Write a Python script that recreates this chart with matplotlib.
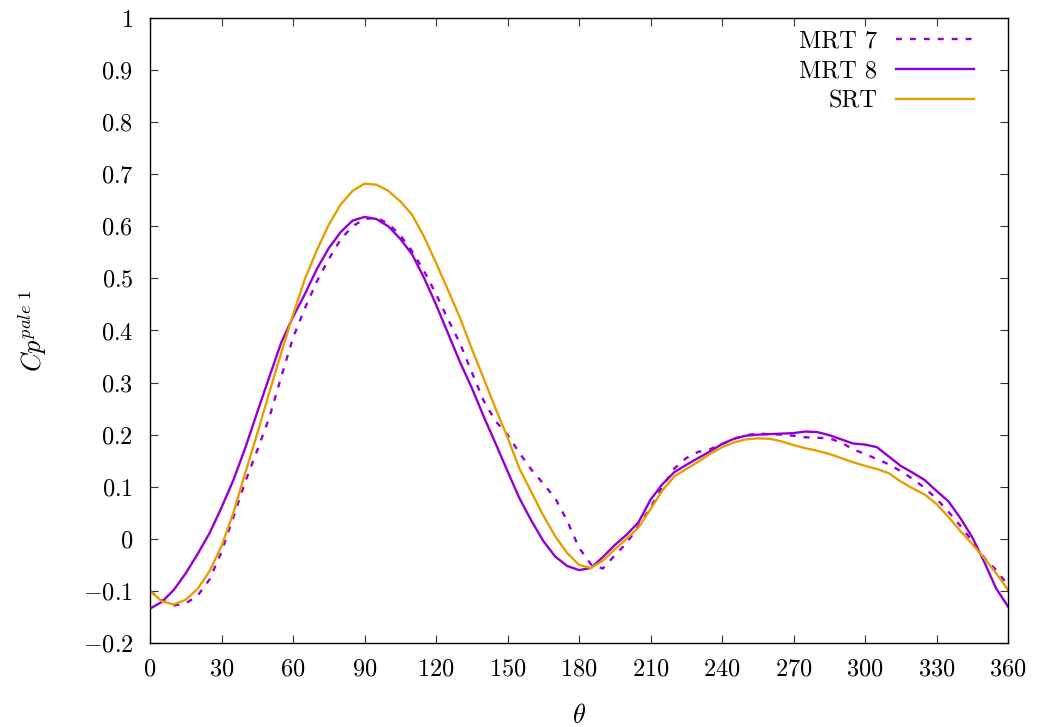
import matplotlib
matplotlib.use("Agg")
import matplotlib.pyplot as plt

theta = list(range(0, 361, 5))

mrt8 = [-0.134, -0.121, -0.098, -0.066, -0.029, 0.011, 0.060, 0.113, 0.175, 0.243,
        0.310, 0.376, 0.426, 0.470, 0.518, 0.558, 0.589, 0.611, 0.618, 0.614,
        0.600, 0.576, 0.546, 0.501, 0.450, 0.395, 0.340, 0.290, 0.235, 0.183,
        0.130, 0.078, 0.035, -0.004, -0.034, -0.052, -0.060, -0.056, -0.035, -0.012,
        0.008, 0.032, 0.075, 0.105, 0.128, 0.142, 0.155, 0.168, 0.182, 0.192,
        0.198, 0.200, 0.201, 0.202, 0.203, 0.206, 0.205, 0.199, 0.191, 0.183,
        0.181, 0.176, 0.158, 0.140, 0.127, 0.113, 0.092, 0.072, 0.040, 0.003,
        -0.044, -0.095, -0.130]

srt = [-0.100, -0.120, -0.126, -0.117, -0.096, -0.062, -0.014, 0.050, 0.127, 0.202,
       0.280, 0.356, 0.430, 0.499, 0.554, 0.603, 0.642, 0.668, 0.682, 0.680,
       0.668, 0.648, 0.622, 0.580, 0.530, 0.478, 0.425, 0.365, 0.308, 0.250,
       0.195, 0.135, 0.090, 0.045, 0.005, -0.027, -0.050, -0.056, -0.042, -0.020,
       0.000, 0.022, 0.057, 0.093, 0.120, 0.134, 0.148, 0.163, 0.176, 0.185,
       0.191, 0.193, 0.192, 0.187, 0.180, 0.174, 0.169, 0.163, 0.155, 0.147,
       0.140, 0.134, 0.126, 0.110, 0.097, 0.085, 0.067, 0.042, 0.015, -0.010,
       -0.037, -0.066, -0.098]

mrt7 = [-0.100, -0.118, -0.128, -0.124, -0.109, -0.078, -0.025, 0.042, 0.110, 0.170,
        0.232, 0.310, 0.386, 0.443, 0.494, 0.537, 0.575, 0.600, 0.614, 0.617,
        0.605, 0.583, 0.552, 0.514, 0.470, 0.422, 0.376, 0.320, 0.265, 0.226,
        0.200, 0.165, 0.133, 0.106, 0.078, 0.035, -0.017, -0.049, -0.057, -0.032,
        -0.008, 0.025, 0.060, 0.100, 0.135, 0.155, 0.167, 0.172, 0.182, 0.192,
        0.199, 0.202, 0.201, 0.200, 0.198, 0.195, 0.194, 0.193, 0.185, 0.172,
        0.163, 0.153, 0.143, 0.130, 0.115, 0.098, 0.077, 0.052, 0.025, -0.004,
        -0.036, -0.060, -0.089]

xticks = list(range(0, 361, 30))
yticks = [-0.2, -0.1, 0, 0.1, 0.2, 0.3, 0.4, 0.5, 0.6, 0.7, 0.8, 0.9, 1]
ytick_labels = [r'$-0.2$', r'$-0.1$', r'$0$', r'$0.1$', r'$0.2$', r'$0.3$', r'$0.4$',
                r'$0.5$', r'$0.6$', r'$0.7$', r'$0.8$', r'$0.9$', r'$1$']
xtick_labels = [r'$%d$' % v for v in xticks]

plt.rcParams['font.family'] = 'cmr10'
plt.rcParams['mathtext.fontset'] = 'cm'
plt.rcParams['axes.unicode_minus'] = False

purple = '#9400D3'
orange = '#E69F00'

fig = plt.figure(figsize=(10.37, 7.27), dpi=100)
ax = fig.add_axes([150/1037, 84/727, 858/1037, 625/727])

ax.plot(theta, mrt7, color=purple, lw=1.7, linestyle=(0, (2.5, 3.4)), label=r'MRT 7')
ax.plot(theta, mrt8, color=purple, lw=1.7, label=r'MRT 8')
ax.plot(theta, srt, color=orange, lw=1.7, label=r'SRT')

ax.set_xlim(0, 360)
ax.set_ylim(-0.2, 1.0)
ax.set_xticks(xticks)
ax.set_xticklabels(xtick_labels)
ax.set_yticks(yticks)
ax.set_yticklabels(ytick_labels)
ax.tick_params(direction='in', length=6, width=0.8, top=True, right=True,
               labelsize=17.5, color='#333333')
ax.tick_params(axis='x', pad=11)
ax.tick_params(axis='y', pad=12)
for s in ax.spines.values():
    s.set_linewidth(1.0)

ax.set_xlabel(r'$\theta$', fontsize=19)
ax.set_ylabel(r'$Cp^{pale\ 1}$', fontsize=19)
ax.xaxis.set_label_coords(0.5, -0.098)
ax.yaxis.set_label_coords(-0.118, 0.5)

leg = ax.legend(loc='upper right', frameon=False, markerfirst=False, fontsize=17.5,
                handlelength=3.2, handletextpad=0.8, labelspacing=0.32,
                borderaxespad=0.0, bbox_to_anchor=(0.972, 0.995))
for t in leg.get_texts():
    t.set_ha('right')

fig.savefig('out.png', dpi=100)
